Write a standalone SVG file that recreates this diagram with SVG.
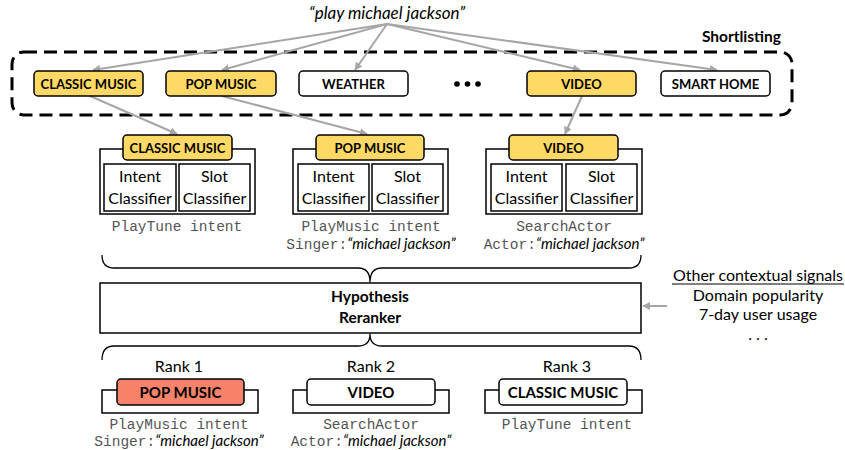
<svg xmlns="http://www.w3.org/2000/svg" width="845" height="450" viewBox="0 0 845 450">
<defs>
<marker id="ah" viewBox="0 0 10 10" refX="9" refY="5" markerWidth="4" markerHeight="4" orient="auto">
<path d="M0,0 L10,5 L0,10 z" fill="#A6A6A6"/>
</marker>
<style>
.lbl{font-family:Lato,"Liberation Sans",sans-serif;font-weight:bold;font-size:13px;text-anchor:middle;fill:#000}
.rlbl{font-family:Lato,"Liberation Sans",sans-serif;font-weight:bold;font-size:15px;text-anchor:middle;fill:#000}
.reg{font-family:Lato,"Liberation Sans",sans-serif;font-size:16px;text-anchor:middle;fill:#000}
.mono{font-family:"Liberation Mono",monospace;font-size:14.5px;fill:#555;text-anchor:middle}
.it{font-family:Lato,"Liberation Sans",sans-serif;font-style:italic;fill:#000;font-size:15px}
.title{font-family:Lato,"Liberation Sans",sans-serif;font-style:italic;fill:#000;font-size:17px;text-anchor:middle}
.yel{fill:#FFD966;stroke:#000;stroke-width:1.5}
.wht{fill:#fff;stroke:#000;stroke-width:1.5}
.red{fill:#F8826A;stroke:#000;stroke-width:1.5}
.frame{fill:#fff;stroke:#000;stroke-width:1.5}
.conn{stroke:#A6A6A6;stroke-width:2;fill:none;marker-end:url(#ah)}
.brace{fill:none;stroke:#000;stroke-width:1.3}
</style>
</defs>
<rect width="845" height="450" fill="#fff"/>

<text x="387" y="19" class="title">“play michael jackson”</text>
<text x="781" y="42" class="lbl" style="text-anchor:end;font-size:15.5px">Shortlisting</text>

<g id="shortlist">
<rect x="12" y="52" width="780" height="63" rx="12" fill="none" stroke="#000" stroke-width="3" stroke-dasharray="13 7"/>
</g>

<g id="connectors">
<line x1="387" y1="24" x2="93" y2="70" class="conn"/>
<line x1="387" y1="24" x2="222" y2="70" class="conn"/>
<line x1="387" y1="24" x2="355" y2="70" class="conn"/>
<line x1="387" y1="24" x2="580" y2="70" class="conn"/>
<line x1="387" y1="24" x2="717" y2="70" class="conn"/>
<line x1="90" y1="96" x2="177" y2="134" class="conn"/>
<line x1="222" y1="96" x2="367" y2="134" class="conn"/>
<line x1="582" y1="96" x2="565" y2="134" class="conn"/>
<line x1="667" y1="306" x2="643" y2="306" class="conn"/>
<path class="brace" d="M102,255 Q102,268 114,268 L358,268 Q370,268 370,282 Q370,268 382,268 L629,268 Q641,268 641,255"/>
<path class="brace" d="M102,360 Q102,346 114,346 L358,346 Q370,346 370,334 Q370,346 382,346 L629,346 Q641,346 641,360"/>
</g>

<g id="sl-classic"><rect x="34" y="71" width="109" height="25" rx="4" class="yel"/><text x="88.5" y="88.5" class="lbl">CLASSIC MUSIC</text></g>
<g id="sl-pop"><rect x="166" y="71" width="110" height="25" rx="4" class="yel"/><text x="221" y="88.5" class="lbl">POP MUSIC</text></g>
<g id="sl-weather"><rect x="299" y="71" width="109" height="25" rx="4" class="wht"/><text x="353.5" y="88.5" class="lbl">WEATHER</text></g>
<g id="sl-dots"><circle cx="457" cy="84" r="2.8"/><circle cx="467.5" cy="84" r="2.8"/><circle cx="478" cy="84" r="2.8"/></g>
<g id="sl-video"><rect x="527" y="71" width="109" height="25" rx="4" class="yel"/><text x="581.5" y="88.5" class="lbl">VIDEO</text></g>
<g id="sl-smarthome"><rect x="661" y="71" width="109" height="25" rx="4" class="wht"/><text x="715.5" y="88.5" class="lbl">SMART HOME</text></g>

<g id="dom-classic">
<rect x="100" y="149" width="155" height="65" class="frame"/>
<rect x="104" y="164" width="72" height="47" class="frame"/>
<rect x="179" y="164" width="71" height="47" class="frame"/>
<rect x="123" y="135" width="109" height="25" rx="4" class="yel"/>
<text x="177.5" y="152.5" class="lbl">CLASSIC MUSIC</text>
<text x="140" y="182" class="reg">Intent</text><text x="140" y="204" class="reg">Classifier</text>
<text x="214.5" y="182" class="reg">Slot</text><text x="214.5" y="204" class="reg">Classifier</text>
<text x="177" y="231" class="mono">PlayTune intent</text>
</g>

<g id="dom-pop">
<rect x="293" y="149" width="155" height="65" class="frame"/>
<rect x="298" y="164" width="71" height="47" class="frame"/>
<rect x="372" y="164" width="71" height="47" class="frame"/>
<rect x="316" y="135" width="108" height="25" rx="4" class="yel"/>
<text x="370" y="152.5" class="lbl">POP MUSIC</text>
<text x="333.5" y="182" class="reg">Intent</text><text x="333.5" y="204" class="reg">Classifier</text>
<text x="407.5" y="182" class="reg">Slot</text><text x="407.5" y="204" class="reg">Classifier</text>
<text x="371" y="231" class="mono">PlayMusic intent</text>
<text x="371" y="249" class="mono">Singer:<tspan class="it">“michael jackson”</tspan></text>
</g>

<g id="dom-video">
<rect x="486" y="149" width="156" height="65" class="frame"/>
<rect x="491" y="164" width="71" height="47" class="frame"/>
<rect x="566" y="164" width="71" height="47" class="frame"/>
<rect x="509" y="135" width="109" height="25" rx="4" class="yel"/>
<text x="563.5" y="152.5" class="lbl">VIDEO</text>
<text x="526.5" y="182" class="reg">Intent</text><text x="526.5" y="204" class="reg">Classifier</text>
<text x="601.5" y="182" class="reg">Slot</text><text x="601.5" y="204" class="reg">Classifier</text>
<text x="564" y="231" class="mono">SearchActor</text>
<text x="564" y="249" class="mono">Actor:<tspan class="it">“michael jackson”</tspan></text>
</g>

<g id="reranker">
<rect x="100" y="283" width="541" height="50" class="frame"/>
<text x="370" y="302" class="lbl" style="font-size:15.5px">Hypothesis</text>
<text x="370" y="323" class="lbl" style="font-size:15.5px">Reranker</text>
</g>

<g id="context">
<text x="758" y="281" class="reg">Other contextual signals</text>
<line x1="672" y1="284" x2="844" y2="284" stroke="#000" stroke-width="1"/>
<text x="758" y="301" class="reg">Domain popularity</text>
<text x="758" y="320" class="reg">7-day user usage</text>
<text x="758" y="340" class="reg">. . .</text>
</g>

<g id="rank1">
<text x="179" y="372" class="reg">Rank 1</text>
<rect x="102" y="390" width="156" height="23" class="frame"/>
<rect x="117" y="379" width="127" height="26" rx="4" class="red"/>
<text x="180.5" y="397.5" class="rlbl">POP MUSIC</text>
<text x="179" y="429" class="mono">PlayMusic intent</text>
<text x="179" y="446" class="mono">Singer:<tspan class="it">“michael jackson”</tspan></text>
</g>

<g id="rank2">
<text x="371" y="372" class="reg">Rank 2</text>
<rect x="293" y="390" width="156" height="23" class="frame"/>
<rect x="307" y="379" width="128" height="26" rx="4" class="wht"/>
<text x="371" y="397.5" class="rlbl">VIDEO</text>
<text x="371" y="429" class="mono">SearchActor</text>
<text x="371" y="446" class="mono">Actor:<tspan class="it">“michael jackson”</tspan></text>
</g>

<g id="rank3">
<text x="567" y="372" class="reg">Rank 3</text>
<rect x="485" y="390" width="157" height="23" class="frame"/>
<rect x="499" y="379" width="128" height="26" rx="4" class="wht"/>
<text x="563" y="397.5" class="rlbl">CLASSIC MUSIC</text>
<text x="567" y="429" class="mono">PlayTune intent</text>
</g>
</svg>
